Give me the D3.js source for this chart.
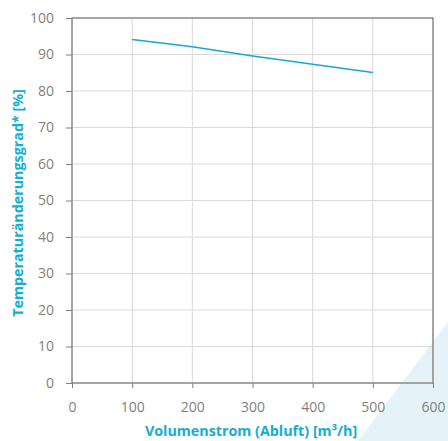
<!DOCTYPE html>
<meta charset="utf-8">
<script src="https://cdnjs.cloudflare.com/ajax/libs/d3/7.8.5/d3.min.js"></script>
<style>
body { margin: 0; background: #fff; }
text { font-family: "Open Sans", sans-serif; }
.tick text { fill: #7f7f7f; font-size: 14px; }
.title { fill: #12aed6; font-weight: bold; font-size: 14.3px; }
</style>
<body>
<script>
// data
var flow = [100, 200, 300, 400, 500];
var efficiency = [94.1, 92.1, 89.6, 87.3, 85.1];
var xTicks = [0, 100, 200, 300, 400, 500, 600];
var yTicks = [0, 10, 20, 30, 40, 50, 60, 70, 80, 90, 100];

var width = 448, height = 441;
var plotL = 72, plotR = 433, plotT = 18, plotB = 383;

var svg = d3.select("body").append("svg")
    .attr("width", width)
    .attr("height", height);

// decorative corner
svg.append("path")
    .attr("d", "M448,322L448,441L358,441Z")
    .attr("fill", "#e5f2f8");

var x = d3.scaleLinear().domain([0, 600]).range([plotL, plotR]);
var y = d3.scaleLinear().domain([0, 100]).range([plotB, plotT]);

// grid
svg.append("g").selectAll("line")
    .data(xTicks)
  .enter().append("line")
    .attr("x1", x).attr("x2", x)
    .attr("y1", plotT).attr("y2", plotB)
    .attr("stroke", "#d9d9d9");
svg.append("g").selectAll("line")
    .data(yTicks)
  .enter().append("line")
    .attr("x1", plotL).attr("x2", plotR)
    .attr("y1", y).attr("y2", y)
    .attr("stroke", "#d9d9d9");

var xAxis = svg.append("g")
    .attr("transform", "translate(0," + plotB + ")")
    .call(d3.axisBottom(x).tickValues(xTicks).tickSize(5).tickPadding(14));
var yAxis = svg.append("g")
    .attr("transform", "translate(" + plotL + ",0)")
    .call(d3.axisLeft(y).tickValues(yTicks).tickSize(6).tickPadding(12));

svg.selectAll(".domain").remove();
svg.selectAll(".tick line").attr("stroke", "#7f7f7f");

// frame
svg.append("rect")
    .attr("x", plotL).attr("y", plotT)
    .attr("width", plotR - plotL).attr("height", plotB - plotT)
    .attr("fill", "none")
    .attr("stroke", "#808080")
    .attr("stroke-width", 1.3);

svg.append("path")
    .datum(d3.zip(flow, efficiency))
    .attr("fill", "none")
    .attr("stroke", "#14a9d3")
    .attr("stroke-width", 1.5)
    .attr("d", d3.line().x(function(d) { return x(d[0]); }).y(function(d) { return y(d[1]); }));

svg.append("text")
    .attr("class", "title")
    .attr("x", 251).attr("y", 436)
    .attr("text-anchor", "middle")
    .text("Volumenstrom (Abluft) [m³/h]");

svg.append("text")
    .attr("class", "title")
    .attr("transform", "translate(23,203) rotate(-90)")
    .attr("text-anchor", "middle")
    .text("Temperaturänderungsgrad* [%]");
</script>
